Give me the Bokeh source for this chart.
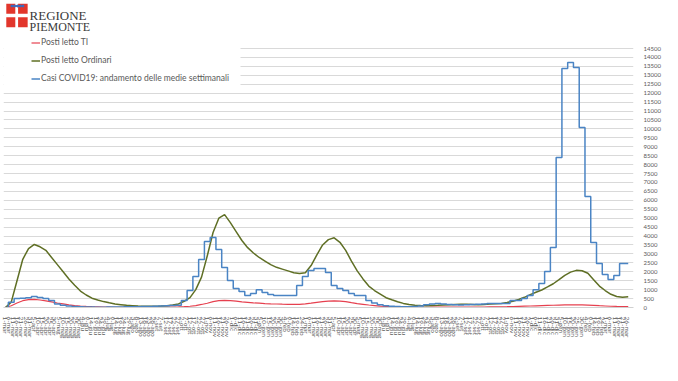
import pandas as pd
from bokeh.plotting import figure
from bokeh.layouts import column
from bokeh.models import FixedTicker, Legend, LegendItem, BoxAnnotation, Range1d
from bokeh.core.properties import value
from bokeh.embed import file_html
from bokeh.resources import INLINE

# ---------------- data ----------------
START_DATE = pd.Timestamp("2020-03-01")
N_DAYS = 757
MESI = ["gen", "feb", "mar", "apr", "mag", "giu", "lug", "ago", "set", "ott", "nov", "dic"]

# weekly sample positions (days since START_DATE)
week_days = list(range(0, N_DAYS, 7))

# Posti letto TI
ti = [10, 100, 250, 380, 440, 450, 420, 370, 310, 250,
      200, 150, 110, 80, 60, 45, 35, 25, 20, 15,
      12, 10, 10, 10, 10, 10, 12, 15, 18, 22,
      30, 45, 70, 110, 170, 240, 330, 380, 400, 390,
      360, 320, 290, 260, 240, 220, 205, 195, 185, 180,
      175, 180, 200, 240, 290, 330, 360, 370, 360, 330,
      270, 220, 180, 140, 110, 80, 60, 45, 35, 25,
      20, 15, 14, 15, 18, 22, 25, 28, 28, 27,
      25, 24, 24, 26, 30, 35, 40, 45, 55, 65,
      75, 85, 95, 105, 115, 125, 135, 145, 150, 150,
      145, 135, 120, 100, 85, 70, 60, 55, 55]

# Posti letto Ordinari
ordinari = [0, 300, 1500, 2700, 3300, 3530, 3400, 3200, 2800, 2400,
            2000, 1600, 1250, 920, 700, 520, 420, 330, 260, 200,
            160, 120, 100, 80, 70, 70, 70, 80, 100, 140,
            200, 350, 550, 1000, 1700, 2900, 4200, 5000, 5200, 4750,
            4250, 3750, 3350, 3050, 2800, 2600, 2400, 2250, 2150, 2050,
            1950, 1900, 1950, 2350, 2950, 3500, 3800, 3900, 3650, 3200,
            2600, 2050, 1600, 1200, 950, 750, 550, 430, 320, 230,
            170, 130, 110, 100, 110, 120, 140, 160, 170, 180,
            180, 170, 160, 170, 190, 210, 230, 280, 350, 450,
            570, 720, 850, 980, 1150, 1330, 1560, 1800, 1980, 2080,
            2060, 1920, 1560, 1200, 950, 740, 620, 570, 600]

# Casi COVID19: medie settimanali
casi = [0, 300, 500, 520, 540, 620, 560, 500, 390, 200,
        120, 80, 60, 40, 30, 25, 20, 20, 25, 30,
        30, 35, 40, 45, 50, 60, 70, 80, 100, 110,
        120, 390, 950, 1740, 2690, 3700, 3920, 3250, 2240, 1510,
        1060, 900, 670, 780, 1000, 840, 730, 670, 670, 670,
        670, 1230, 1740, 2070, 2180, 2180, 1960, 1230, 1060, 950,
        780, 670, 670, 390, 250, 150, 100, 70, 50, 40,
        40, 60, 90, 150, 200, 220, 200, 170, 150, 140,
        150, 170, 180, 200, 220, 220, 220, 220, 390, 390,
        500, 670, 1000, 1340, 2020, 3360, 8400, 13380, 13720, 13440,
        10080, 6220, 3640, 2460, 1850, 1570, 1790, 2460, 2460]

series_names = ["Posti letto TI", "Posti letto Ordinari",
                "Casi COVID19: andamento delle medie settimanali"]

tick_days = list(range(0, N_DAYS, 5))
tick_labels = [f"{d.day}-{MESI[d.month - 1]}"
               for d in (START_DATE + pd.Timedelta(days=k) for k in tick_days)]
y_ticks = list(range(0, 14501, 500))

# ---------------- header (logo) ----------------
header = figure(width=678, height=32, x_range=Range1d(0, 678), y_range=Range1d(32, 0),
                x_axis_location=None, y_axis_location=None, output_backend="svg",
                toolbar_location=None, min_border=0)
header.grid.visible = False
header.outline_line_color = None
header.quad(left=[3, 15.7, 3, 15.7], right=[12.7, 26, 12.7, 26],
            top=[3.3, 3.3, 16.7, 16.7], bottom=[13.3, 13.3, 26.7, 26.7],
            fill_color="#e2362c", line_color=None)
header.line([8, 22], [5.5, 5.5], line_color="#3b6cc0", line_width=1.5)
header.scatter([9, 12, 15, 18, 21], [5.5] * 5, size=2, color="#3b6cc0")
header.text(x=[28], y=[15.0], text=["REGIONE"], text_font=value("Liberation Serif"),
            text_font_size="13px", text_color="#3a3a3a", text_baseline="alphabetic",
            text_line_height=1.0)
header.text(x=[28], y=[26.0], text=["PIEMONTE"], text_font=value("Liberation Serif"),
            text_font_size="12px", text_color="#3a3a3a", text_baseline="alphabetic",
            text_line_height=1.0)

# ---------------- main chart (page y 32..343) ----------------
Y_TOP = 15228  # frame extends a little above the last tick so the legend fits
p = figure(width=678, height=312, x_range=Range1d(-2.4, 762.4), y_range=Range1d(0, Y_TOP),
           y_axis_location="right", output_backend="svg", toolbar_location=None,
           min_border_left=3, min_border_right=45, min_border_top=3, min_border_bottom=37)
p.outline_line_color = None
p.background_fill_color = "white"
p.border_fill_color = "white"
p.xgrid.visible = False
p.ygrid.grid_line_color = "#d9d9d9"
p.ygrid.grid_line_width = 1

TICK_FONT = "Lato"
p.yaxis.ticker = FixedTicker(ticks=y_ticks)
p.yaxis.axis_line_color = None
p.yaxis.major_tick_line_color = None
p.yaxis.minor_tick_line_color = None
p.yaxis.major_label_standoff = 4
p.yaxis.major_label_text_font = TICK_FONT
p.yaxis.major_label_text_font_size = "6px"
p.yaxis.major_label_text_color = "#595959"

p.xaxis.ticker = FixedTicker(ticks=tick_days)
p.xaxis.major_label_overrides = dict(zip(tick_days, tick_labels))
p.xaxis.major_label_orientation = "vertical"
p.xaxis.axis_line_color = "#d0d0d0"
p.xaxis.major_tick_line_color = None
p.xaxis.minor_tick_line_color = None
p.xaxis.major_label_standoff = 3
p.xaxis.major_label_text_font = TICK_FONT
p.xaxis.major_label_text_font_size = "6.5px"
p.xaxis.major_label_text_color = "#595959"

r_ti = p.line(week_days, ti, line_color="#e6404f", line_width=1.2)
r_ord = p.line(week_days, ordinari, line_color="#5f6f25", line_width=1.5)
r_casi = p.step(week_days, casi, mode="center", line_color="#4a84c4", line_width=1.5)

# chart-area border (screen units, relative to the frame's bottom-left corner)
chart_border = BoxAnnotation(left=-2.5, right=673.5, bottom=-35.5, top=274.5,
                             left_units="screen", right_units="screen",
                             top_units="screen", bottom_units="screen",
                             fill_alpha=0, line_color="#d4d4d4", line_width=1)
p.add_layout(chart_border)

mask = BoxAnnotation(left=0, right=237, bottom=219, top=272,
                     left_units="screen", right_units="screen",
                     top_units="screen", bottom_units="screen",
                     fill_color="white", fill_alpha=1, line_color=None)
p.add_layout(mask)

legend = Legend(items=[LegendItem(label=series_names[0], renderers=[r_ti]),
                       LegendItem(label=series_names[1], renderers=[r_ord]),
                       LegendItem(label=series_names[2], renderers=[r_casi])],
                location=(28, 224), orientation="vertical",
                padding=0, margin=0, spacing=8, glyph_width=9, glyph_height=9,
                label_height=9, label_standoff=1,
                label_text_font="Lato", label_text_font_size="8.5px",
                label_text_color="#595959",
                background_fill_alpha=0, border_line_color=None)
p.add_layout(legend)

layout = column(header, p, spacing=0)
open("out.html", "w").write(file_html(layout, INLINE))
